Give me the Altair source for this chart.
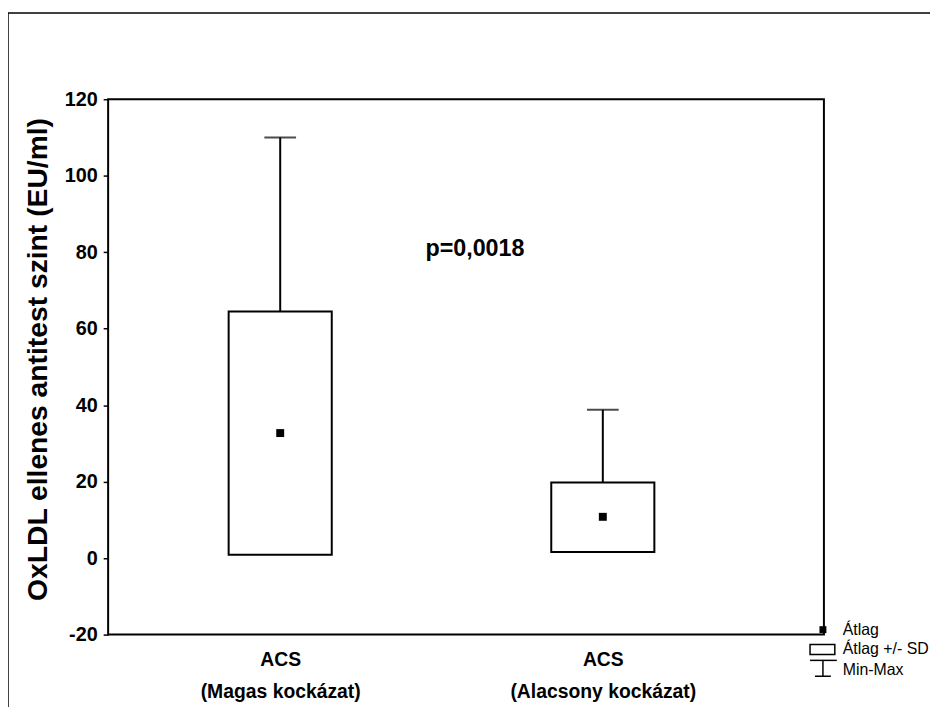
import json
import altair as alt
import pandas as pd

# ---- data ----
groups = ["ACS\n(Magas kockázat)", "ACS\n(Alacsony kockázat)"]
mean_vals = [32.7, 10.8]          # Átlag
sd_low = [0.9, 1.6]               # Átlag - SD
sd_high = [64.5, 19.8]            # Átlag + SD
max_vals = [110.0, 38.8]          # Max
y_ticks = [-20, 0, 20, 40, 60, 80, 100, 120]
y_title = "OxLDL ellenes antitest szint (EU/ml)"
p_label = "p=0,0018"
legend_labels = ["Átlag", "Átlag +/- SD", "Min-Max"]

FONT = "Arial, Liberation Sans, sans-serif"

df = pd.DataFrame({
    "group": groups,
    "pos": list(range(1, len(groups) + 1)),
    "mean": mean_vals,
    "sd_low": sd_low,
    "sd_high": sd_high,
    "max": max_vals,
})

label_lines = [g.split("\n") for g in groups]
x_label_expr = json.dumps(label_lines, ensure_ascii=False) + "[datum.value - 1]"

x_enc = alt.X(
    "pos:Q",
    scale=alt.Scale(domain=[0.482, 2.67], nice=False, zero=False),
    axis=alt.Axis(
        title=None, values=list(range(1, len(groups) + 1)), labelExpr=x_label_expr,
        labelAngle=0, ticks=False, domain=False, grid=False, labelFont=FONT,
        labelFontSize=19.5, labelFontWeight="bold", labelColor="black",
        labelPadding=16, labelBaseline="top", labelLineHeight=32, labelLimit=0,
        labelFlush=False, labelOverlap=False,
    ),
)

y_axis = alt.Axis(
    values=y_ticks, title=y_title, grid=False, domain=False,
    labelExpr="datum.value + ''", labelFont=FONT, labelFontSize=20,
    labelFontWeight="bold", labelColor="black", labelPadding=6,
    tickColor="black", tickSize=5, tickWidth=1.5,
    titleFont=FONT, titleFontSize=28.5, titleFontWeight="bold", titleColor="black",
    titleAngle=270, titleX=-62, titleY=262, titleAlign="center",
    titleBaseline="alphabetic",
)
y_scale = alt.Scale(domain=[-20, 120], nice=False, zero=False)

base = alt.Chart(df)

boxes = base.mark_bar(size=104, fill="white", stroke="black", strokeWidth=2).encode(
    x=x_enc,
    y=alt.Y("sd_low:Q", scale=y_scale, axis=y_axis),
    y2="sd_high:Q",
)
whisk = base.mark_rule(color="black", strokeWidth=2).encode(
    x=x_enc,
    y=alt.Y("sd_high:Q", scale=y_scale, axis=y_axis),
    y2="max:Q",
)
caps = base.mark_tick(orient="horizontal", size=32, thickness=2, color="black").encode(
    x=x_enc,
    y=alt.Y("max:Q", scale=y_scale, axis=y_axis),
)
means = base.mark_point(shape="square", filled=True, size=64, color="black", opacity=1).encode(
    x=x_enc,
    y=alt.Y("mean:Q", scale=y_scale, axis=y_axis),
)

one = pd.DataFrame({"t": [p_label]})
p_text = alt.Chart(one).mark_text(
    font=FONT, fontSize=23.5, fontWeight="bold", color="black", align="center", baseline="middle"
).encode(text="t:N", x=alt.value(370), y=alt.value(151))

# outer figure frame (left and top edges; the others lie outside the picture)
frame_top = alt.Chart(one).mark_rule(color="black", strokeWidth=1.5).encode(
    x=alt.value(-101), x2=alt.value(900), y=alt.value(-87)
)
frame_left = alt.Chart(one).mark_rule(color="black", strokeWidth=1.5).encode(
    x=alt.value(-101), y=alt.value(-87), y2=alt.value(700)
)

# legend (drawn manually, below right of the plot)
LX = 708  # left edge of the legend symbols, in plot pixels
def legend_text(i, ypos):
    return alt.Chart(pd.DataFrame({"t": [legend_labels[i]]})).mark_text(
        font=FONT, fontSize=16, color="black", align="left", baseline="middle"
    ).encode(text="t:N", x=alt.value(LX + 33), y=alt.value(ypos))

lg_square = alt.Chart(one).mark_point(shape="square", filled=True, size=49, color="black", opacity=1).encode(
    x=alt.value(LX + 13), y=alt.value(535)
)
lg_box = alt.Chart(one).mark_rect(fill="white", stroke="black", strokeWidth=1.5).encode(
    x=alt.value(LX), x2=alt.value(LX + 25), y=alt.value(550), y2=alt.value(560)
)
lg_top = alt.Chart(one).mark_rule(color="black", strokeWidth=1.5).encode(
    x=alt.value(LX), x2=alt.value(LX + 27), y=alt.value(566)
)
lg_vert = alt.Chart(one).mark_rule(color="black", strokeWidth=1.5).encode(
    x=alt.value(LX + 13), y=alt.value(566), y2=alt.value(582)
)
lg_bot = alt.Chart(one).mark_rule(color="black", strokeWidth=1.5).encode(
    x=alt.value(LX + 5), x2=alt.value(LX + 21), y=alt.value(582)
)

chart = alt.layer(
    frame_top, frame_left, boxes, whisk, caps, means, p_text,
    lg_square, lg_box, lg_top, lg_vert, lg_bot,
    legend_text(0, 535), legend_text(1, 555), legend_text(2, 576),
).properties(
    width=722, height=540,
    padding={"left": 101, "top": 89, "right": 107, "bottom": 70},
    autosize=alt.AutoSizeParams(type="none"),
    background="white",
).configure_view(stroke="black", strokeWidth=2)

chart.save("out.html", embed_options={"renderer": "svg", "actions": False})
